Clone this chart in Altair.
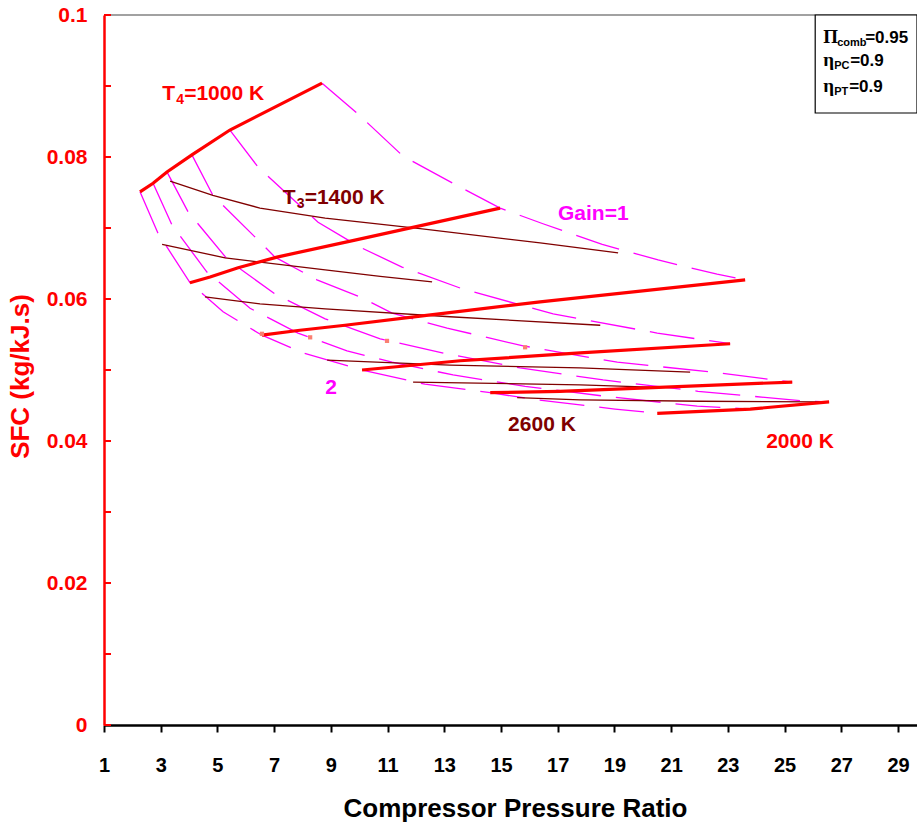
import altair as alt
import pandas as pd

# ---------------- data ----------------
# constant-gain curves (magenta, long dash)
g1_x = [8.69, 9.92, 11.55, 13.49, 14.97, 16.48, 18.57, 20.54, 22.62, 23.61]
g1_y = [0.0904, 0.0862, 0.0801, 0.0759, 0.0728, 0.0706, 0.0677, 0.0655, 0.0635, 0.0627]
g12_x = [5.44, 6.43, 8.55, 10.03, 11.51, 13.66, 16.84, 20.51, 23.08]
g12_y = [0.0838, 0.0786, 0.0708, 0.0673, 0.0645, 0.0614, 0.0579, 0.0552, 0.0537]
g14_x = [4.10, 4.84, 6.61, 7.03, 8.51, 10.03, 11.16, 13.10, 15.78, 19.10, 22.69, 24.84, 25.27]
g14_y = [0.0803, 0.0746, 0.0676, 0.0659, 0.0627, 0.0603, 0.0580, 0.0559, 0.0534, 0.0511, 0.0496, 0.0485, 0.0483]
g16_x = [3.22, 3.96, 5.37, 7.03, 8.80, 10.74, 13.06, 15.67, 18.60, 21.95, 25.80, 26.57]
g16_y = [0.0779, 0.0723, 0.0655, 0.0607, 0.0572, 0.0544, 0.0523, 0.0503, 0.0486, 0.0470, 0.0456, 0.0455]
g18_x = [2.73, 3.40, 4.63, 6.15, 7.84, 9.57, 11.16, 13.31, 15.85, 18.67, 21.92, 23.79]
g18_y = [0.0763, 0.0704, 0.0638, 0.0587, 0.0552, 0.0527, 0.0511, 0.0493, 0.0477, 0.0463, 0.0449, 0.0445]
g2_x = [2.27, 2.90, 4.03, 5.20, 6.57, 8.02, 10.10, 12.32, 14.62, 16.27, 19.02, 20.51]
g2_y = [0.0751, 0.0693, 0.0623, 0.0582, 0.0549, 0.0524, 0.0500, 0.0480, 0.0468, 0.0458, 0.0445, 0.0439]

# constant-T4 lines (red, thick)
t4_1000_x = [2.27, 2.73, 3.22, 4.10, 5.44, 8.69]
t4_1000_y = [0.0751, 0.0763, 0.0779, 0.0803, 0.0838, 0.0904]
t4_1200_x = [4.03, 4.74, 5.73, 7.10, 9.85, 14.97]
t4_1200_y = [0.0623, 0.0631, 0.0644, 0.0659, 0.0683, 0.0728]
t4_1400_x = [6.57, 7.91, 9.50, 12.15, 16.38, 23.61]
t4_1400_y = [0.0549, 0.0556, 0.0563, 0.0576, 0.0596, 0.0627]
t4_1600_x = [10.10, 13.56, 17.79, 23.08]
t4_1600_y = [0.0500, 0.0513, 0.0524, 0.0537]
t4_1800_x = [14.62, 17.08, 25.27]
t4_1800_y = [0.0468, 0.0470, 0.0483]
t4_2000_x = [20.51, 23.79, 26.57]
t4_2000_y = [0.0439, 0.0445, 0.0455]

# constant-T3 lines (maroon, thin)
t3_a_x = [3.33, 4.84, 6.50, 8.80, 12.15, 16.38, 19.13]
t3_a_y = [0.0766, 0.0746, 0.0728, 0.0714, 0.0699, 0.0679, 0.0665]
t3_b_x = [3.05, 5.27, 8.80, 10.74, 12.57]
t3_b_y = [0.0677, 0.0658, 0.0641, 0.0632, 0.0624]
t3_c_x = [4.56, 6.50, 8.80, 13.20, 18.50]
t3_c_y = [0.0603, 0.0593, 0.0586, 0.0575, 0.0563]
t3_d_x = [8.87, 13.20, 17.79, 21.67]
t3_d_y = [0.0514, 0.0507, 0.0503, 0.0497]
t3_e_x = [11.90, 17.79, 20.26]
t3_e_y = [0.0483, 0.0479, 0.0476]
t3_f_x = [15.57, 17.79, 22.02, 26.26]
t3_f_y = [0.0461, 0.0458, 0.0456, 0.0455]

# small stray markers
dot_x = [6.57, 8.27, 10.98, 15.85]
dot_y = [0.0551, 0.0546, 0.0541, 0.0532]

# axes
x_domain = [1, 29.67]
y_domain = [0, 0.1]
x_tick_values = list(range(1, 30, 2))
y_label_values = [0, 0.02, 0.04, 0.06, 0.08, 0.1]
y_tick_values = [0, 0.01, 0.02, 0.03, 0.04, 0.05, 0.06, 0.07, 0.08, 0.09, 0.1]

# annotation anchors (data coordinates)
lab_t4 = (3.05, 0.0880)
lab_t3 = (7.30, 0.0734)
lab_gain1 = (17.01, 0.0711)
lab_gain2 = (8.80, 0.0466)
lab_2600 = (15.25, 0.0414)
lab_2000 = (24.35, 0.0390)
box_x = [26.08, 29.67]
box_y = [0.0862, 0.1]
box_text_x = 26.36
box_line_y = [0.09606, 0.09282, 0.08915]

# ---------------- build ----------------
SANS = "Liberation Sans"
SERIF = "Liberation Serif"
MAG = "#FF00FF"
RED = "#FF0000"
MAROON = "#800000"


def long_frame(groups):
    rows = []
    for name, xs, ys in groups:
        for i, (a, b) in enumerate(zip(xs, ys)):
            rows.append({"series": name, "i": i, "x": a, "y": b})
    return pd.DataFrame(rows)


mag_df = long_frame([("g1", g1_x, g1_y), ("g12", g12_x, g12_y), ("g14", g14_x, g14_y),
                     ("g16", g16_x, g16_y), ("g18", g18_x, g18_y), ("g2", g2_x, g2_y)])
red_df = long_frame([("1000", t4_1000_x, t4_1000_y), ("1200", t4_1200_x, t4_1200_y),
                     ("1400", t4_1400_x, t4_1400_y), ("1600", t4_1600_x, t4_1600_y),
                     ("1800", t4_1800_x, t4_1800_y), ("2000", t4_2000_x, t4_2000_y)])
brown_df = long_frame([("a", t3_a_x, t3_a_y), ("b", t3_b_x, t3_b_y), ("c", t3_c_x, t3_c_y),
                       ("d", t3_d_x, t3_d_y), ("e", t3_e_x, t3_e_y), ("f", t3_f_x, t3_f_y)])
dot_df = pd.DataFrame({"x": dot_x, "y": dot_y})

x_axis = alt.Axis(values=x_tick_values, grid=False, title="Compressor Pressure Ratio",
                  titleFont=SANS, titleFontSize=26, titleFontWeight="bold", titleColor="black",
                  titleX=411, titleY=83, titleBaseline="middle", titleAlign="center",
                  labelFont=SANS, labelFontSize=20, labelFontWeight="bold", labelColor="black",
                  labelPadding=23, labelFlush=False, labelOverlap=False,
                  tickSize=7, tickWidth=2, tickColor="black",
                  domainColor="black", domainWidth=2.5)
y_axis = alt.Axis(values=y_label_values, grid=False, title="SFC (kg/kJ.s)",
                  labelExpr="datum.value == 0 ? '0' : format(datum.value, '.2~f')",
                  titleFont=SANS, titleFontSize=26, titleFontWeight="bold", titleColor=RED,
                  titleX=-84, titleY=361, titleAngle=270, titleBaseline="middle", titleAlign="center",
                  labelFont=SANS, labelFontSize=21, labelFontWeight="bold", labelColor=RED,
                  labelPadding=17, labelFlush=False, labelOverlap=False,
                  tickSize=0, domainColor=RED, domainWidth=2.5)

X = alt.X("x:Q", scale=alt.Scale(domain=x_domain, nice=False, zero=False), axis=x_axis)
Y = alt.Y("y:Q", scale=alt.Scale(domain=y_domain, nice=False, zero=False), axis=y_axis)
X2 = alt.X2("x2:Q")
Y2 = alt.Y2("y2:Q")

magenta = alt.Chart(mag_df).mark_line(color=MAG, strokeWidth=1.3, strokeDash=[45, 15]).encode(
    x=X, y=Y, detail="series:N", order="i:Q")
brown = alt.Chart(brown_df).mark_line(color=MAROON, strokeWidth=1.3).encode(
    x=X, y=Y, detail="series:N", order="i:Q")
red = alt.Chart(red_df).mark_line(color=RED, strokeWidth=3.2).encode(
    x=X, y=Y, detail="series:N", order="i:Q")
dots = alt.Chart(dot_df).mark_square(size=18, color="#FA8072", opacity=1).encode(x=X, y=Y)

top_df = pd.DataFrame({"x": [x_domain[0]], "x2": [x_domain[1]], "y": [y_domain[1]]})
top_line = alt.Chart(top_df).mark_rule(color="#444444", strokeWidth=1.2).encode(x=X, x2=X2, y=Y)

ytick_df = pd.DataFrame({"y": y_tick_values})
yticks = alt.Chart(ytick_df).mark_rule(color=RED, strokeWidth=2).encode(
    y=Y, x=alt.value(0), x2=alt.value(7))

box_df = pd.DataFrame({"x": [box_x[0]], "x2": [box_x[1]], "y": [box_y[0]], "y2": [box_y[1]]})
box = alt.Chart(box_df).mark_rect(fill="white", stroke="black", strokeWidth=1.2).encode(
    x=X, x2=X2, y=Y, y2=Y2)


def piece(pos, text, size, color, dx=0, dy=0, font=SANS):
    d = pd.DataFrame({"x": [pos[0]], "y": [pos[1]], "t": [text]})
    return alt.Chart(d).mark_text(align="left", baseline="alphabetic", dx=dx, dy=dy,
                                  fontSize=size, fontWeight="bold", font=font,
                                  color=color).encode(x=X, y=Y, text="t:N")


texts = [
    piece(lab_t4, "T", 21, RED), piece(lab_t4, "4", 14, RED, dx=14, dy=4),
    piece(lab_t4, "=1000 K", 21, RED, dx=22),
    piece(lab_t3, "T", 21, MAROON), piece(lab_t3, "3", 14, MAROON, dx=14, dy=4),
    piece(lab_t3, "=1400 K", 21, MAROON, dx=22),
    piece(lab_gain1, "Gain=1", 21, MAG),
    piece(lab_gain2, "2", 21, MAG),
    piece(lab_2600, "2600 K", 21, MAROON),
    piece(lab_2000, "2000 K", 21, RED),
]
l1 = (box_text_x, box_line_y[0])
l2 = (box_text_x, box_line_y[1])
l3 = (box_text_x, box_line_y[2])
texts += [
    piece(l1, "\u03a0", 19, "black", font=SERIF), piece(l1, "comb", 11, "black", dx=14, dy=3),
    piece(l1, "=0.95", 17, "black", dx=42),
    piece(l2, "\u03b7", 19, "black", font=SERIF), piece(l2, "PC", 11, "black", dx=11, dy=3),
    piece(l2, "=0.9", 17, "black", dx=27),
    piece(l3, "\u03b7", 19, "black", font=SERIF), piece(l3, "PT", 11, "black", dx=11, dy=3),
    piece(l3, "=0.9", 17, "black", dx=26),
]

chart = alt.layer(magenta, brown, red, dots, top_line, yticks, box, *texts).properties(
    width=813, height=710,
    autosize=alt.AutoSizeParams(type="none"),
    padding={"left": 104, "top": 15, "right": 0, "bottom": 100},
    background="white",
).configure_view(stroke=None)

chart.save("out.html", embed_options={"renderer": "svg", "actions": False})
